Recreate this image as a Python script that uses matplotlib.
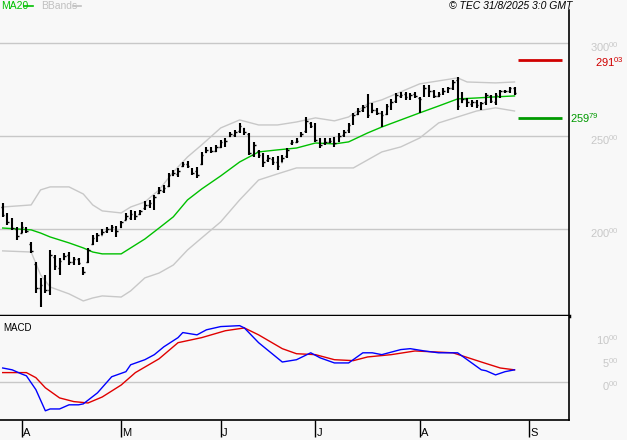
import numpy as np
import matplotlib
matplotlib.use('Agg')
import matplotlib.pyplot as plt
import matplotlib.transforms as mtransforms
from matplotlib.lines import Line2D

plt.rcParams['font.family'] = ['Liberation Sans', 'DejaVu Sans']
plt.rcParams['mathtext.fontset'] = 'custom'
plt.rcParams['mathtext.rm'] = 'Liberation Sans'
plt.rcParams['mathtext.it'] = 'Liberation Sans:italic'

# daily bars, late March .. 29 Aug 2025 (index = trading day)
highs = [214.0, 208.6, 205.9, 201.1, 203.8, 201.1, 193.0, 182.3, 173.7, 175.3,
         188.7, 186.0, 184.4, 187.1, 187.6, 185.0, 184.4, 179.6, 189.8, 196.8,
         197.8, 200.0, 201.1, 202.2, 201.6, 204.3, 208.6, 210.2, 209.7, 210.2,
         215.1, 215.6, 218.3, 222.6, 223.7, 230.1, 231.7, 232.8, 236.0, 236.6,
         232.8, 233.3, 241.4, 244.1, 244.1, 245.2, 247.8, 248.9, 252.2, 253.2,
         257.0, 254.3, 251.6, 246.8, 242.5, 240.9, 239.8, 238.7, 239.3, 239.8,
         243.5, 247.8, 248.9, 252.2, 260.2, 257.5, 257.0, 248.9, 248.9, 248.9,
         249.5, 251.6, 253.2, 257.0, 262.4, 265.1, 266.7, 272.6, 267.7, 265.1,
         263.4, 267.2, 269.9, 273.1, 273.7, 273.7, 273.1, 273.7, 271.0, 277.4,
         277.4, 274.7, 273.7, 275.8, 276.3, 280.1, 281.7, 273.7, 270.4, 269.4,
         269.4, 268.3, 273.1, 272.0, 273.1, 274.7, 274.7, 276.3, 276.3]
lows = [206.5, 202.2, 199.5, 194.1, 197.8, 197.8, 187.1, 165.6, 158.1, 165.6,
        164.5, 178.0, 175.3, 183.3, 180.6, 180.6, 180.6, 175.3, 181.7, 191.4,
        193.0, 196.8, 197.8, 198.4, 195.7, 200.5, 204.8, 204.8, 204.8, 207.5,
        210.2, 211.3, 210.2, 218.8, 219.4, 222.6, 228.5, 228.0, 233.3, 232.8,
        229.0, 227.4, 234.4, 240.9, 240.9, 241.4, 243.5, 244.1, 249.5, 249.5,
        251.6, 250.5, 239.8, 238.7, 238.2, 233.3, 236.0, 234.4, 231.7, 236.0,
        238.2, 245.2, 246.2, 249.5, 251.6, 254.3, 246.8, 243.5, 245.2, 246.2,
        244.1, 246.8, 249.5, 251.6, 255.9, 261.3, 262.9, 259.7, 262.4, 261.3,
        254.8, 261.3, 264.0, 267.7, 270.4, 269.4, 269.4, 270.4, 262.4, 271.0,
        271.0, 270.4, 271.0, 272.0, 273.1, 274.7, 264.0, 267.7, 265.6, 265.6,
        265.1, 264.0, 266.7, 267.7, 266.7, 270.4, 273.1, 273.1, 272.0]
opens = [212, 207, 204, 200, 198, 200, 192, 181, 168, 170,
         167, 185, 179, 184, 186, 182, 184, 179, 182, 192,
         195, 197, 199, 200, 201, 201, 205, 206, 208, 208,
         211, 213, 212, 219.5, 220.5, 223, 229, 229.5, 234, 235,
         232, 231, 235, 241.5, 243, 242, 244, 245, 250, 250.5,
         252.5, 254, 251, 240, 242, 239.5, 237, 237.5, 236, 236,
         239, 246, 247, 250, 252.5, 257, 256, 247.5, 246, 247,
         248.5, 247.5, 250.5, 253, 257, 262, 264, 266, 263, 264,
         262.5, 262, 265, 269, 271.5, 272.5, 270.5, 272.5, 270.5, 272,
         276.5, 274, 271.5, 273, 274, 276, 280, 268, 270, 267,
         268.5, 265.5, 268, 271.5, 268, 271.5, 274, 274, 275.5]
closes = [207.5, 204, 200.5, 196, 201, 199, 188, 168, 170, 167,
          186, 180, 183, 185.5, 182, 184, 181.5, 177, 188.5, 195,
          196.5, 198.5, 200, 201, 199, 203.5, 207, 208, 207, 209.5,
          213, 214, 217, 221, 222, 229, 230, 231, 235, 234,
          230, 229, 240, 242.5, 242, 244, 246.5, 247.5, 251, 252,
          255.5, 252, 241, 245, 240, 236, 238, 236, 234, 238,
          242.5, 246.5, 247.5, 251, 258, 255.5, 248, 245, 247, 247.5,
          246, 250, 252, 256, 261, 263.5, 265.5, 261, 264, 262.5,
          261.5, 266, 268, 272, 272, 271, 272, 271.5, 270, 276,
          274, 271.5, 272.5, 274, 275.5, 279, 266, 270, 268, 268,
          266.5, 267.5, 272, 269, 272, 274, 274, 275.5, 273]

# MA20 and Bollinger bands, read at selected bars
ma_idx = [0, 3, 6, 8, 10, 14, 17, 19, 21, 25, 27, 30, 33, 36, 39, 42, 46, 50, 54,
          58, 62, 66, 70, 73, 77, 80, 84, 88, 92, 96, 100, 104, 108]
ma20 = [200.5, 200.0, 199.5, 197.8, 195.7, 192.5, 189.8, 187.6, 186.6, 186.6,
        189.8, 194.6, 200.5, 206.5, 215.6, 221.5, 228.5, 236.0, 241.4, 242.5,
        243.5, 246.2, 245.7, 246.8, 251.6, 254.8, 258.6, 262.4, 266.1, 269.9,
        270.4, 271.0, 271.5]
up_idx = [0, 6, 8, 10, 14, 17, 19, 21, 25, 27, 30, 33, 36, 39, 42, 46, 50, 54,
          58, 62, 66, 70, 73, 77, 80, 84, 88, 92, 96, 98, 104, 108]
bb_upper = [211.8, 212.9, 221.0, 222.6, 222.6, 218.8, 212.9, 209.7, 208.6, 211.8,
            214.5, 221.0, 230.6, 238.7, 245.2, 254.3, 258.6, 255.9, 255.9, 257.5,
            259.7, 258.1, 260.2, 267.2, 269.4, 273.7, 278.0, 279.6, 281.2, 279.0,
            278.5, 279.0]
lo_idx = [0, 6, 8, 10, 14, 17, 19, 21, 25, 27, 30, 33, 36, 39, 42, 46, 50, 54,
          58, 62, 66, 70, 74, 77, 80, 84, 88, 92, 96, 100, 104, 108]
bb_lower = [188.2, 187.6, 175.3, 168.8, 165.1, 161.3, 162.9, 164.0, 163.4, 166.7,
            173.7, 176.3, 180.6, 188.7, 195.2, 203.8, 215.6, 226.3, 229.6, 232.8,
            232.8, 232.8, 232.8, 237.1, 241.4, 244.1, 248.9, 257.0, 260.2, 263.4,
            265.1, 263.4]

resistance = 291.03
support = 259.79

# MACD (blue) and signal (red)
macd_idx = [0, 2, 4, 5, 7, 9, 10, 12, 14, 16, 17, 20, 23, 26, 27, 30, 32, 34, 37,
            38, 41, 43, 46, 50, 51, 54, 59, 62, 65, 67, 70, 73, 76, 78, 80, 84, 86,
            89, 92, 96, 101, 102, 104, 106, 108]
macd = [3.0, 2.6, 1.7, 1.3, -1.7, -6.3, -5.9, -5.9, -5.0, -5.0, -4.8, -2.4, 1.1,
        2.2, 3.7, 4.8, 5.9, 7.6, 9.6, 10.7, 10.2, 11.3, 12.0, 12.2, 11.7, 8.5, 4.3,
        4.8, 6.3, 5.2, 4.1, 4.1, 6.3, 6.3, 5.9, 7.0, 7.2, 6.7, 6.3, 6.3, 2.6, 2.4,
        1.5, 2.2, 2.6]
sig_idx = [0, 2, 5, 7, 9, 12, 15, 18, 21, 25, 28, 33, 37, 42, 47, 51, 54, 59, 62,
           66, 70, 74, 77, 82, 87, 95, 101, 105, 108]
signal = [2.0, 2.0, 2.0, 0.9, -1.3, -3.5, -4.3, -4.6, -3.3, -0.7, 2.0, 5.0, 8.5,
          9.6, 11.1, 11.7, 10.2, 7.2, 6.1, 5.9, 4.8, 4.6, 5.4, 5.9, 6.7, 6.3, 4.3,
          3.0, 2.6]

month_pos = [4, 25, 46, 66, 88, 111]
month_labels = ['A', 'M', 'J', 'J', 'A', 'S']

BG = '#f8f8f8'
GRID = '#c8c8c8'

fig = plt.figure(figsize=(6.27, 4.40), dpi=100, facecolor=BG)
ax = fig.add_axes([0, 0.2818, 0.9075, 0.6955], facecolor=BG)
ax2 = fig.add_axes([0, 0.04545, 0.9075, 0.2364], facecolor=BG)

xmin, xmax = -0.57, 119.5
idx = np.arange(len(highs))

# ---- price panel
for lvl in [200, 250, 300]:
    ax.axhline(lvl, color=GRID, lw=1, zorder=1)
ax.plot(up_idx, bb_upper, color=GRID, lw=1, zorder=2)
ax.plot(lo_idx, bb_lower, color=GRID, lw=1, zorder=2)
ax.plot(ma_idx, ma20, color='#00c000', lw=1, zorder=3)
ax.vlines(idx, lows, highs, color='black', lw=1.5, zorder=4)
ax.hlines(opens, idx - 0.35, idx, color='black', lw=1, zorder=4)
ax.hlines(closes, idx, idx + 0.35, color='black', lw=1, zorder=4)

ax.hlines(resistance, 108.7, 118.0, color='#d00000', lw=2, zorder=4)
ax.hlines(support, 108.7, 118.0, color='#009a00', lw=2, zorder=4)

ax.set_xlim(xmin, xmax)
ax.set_ylim(153.2, 317.7)
ax.set_xticks([])
ax.set_yticks([])
for s in ['left', 'top']:
    ax.spines[s].set_visible(False)
ax.spines['right'].set_linewidth(1.2)
ax.spines['bottom'].set_linewidth(2.5)

tr = mtransforms.blended_transform_factory(ax.transAxes, ax.transData)
tr_lab = mtransforms.offset_copy(tr, fig=fig, x=0, y=-4, units='dots')
tr_res = mtransforms.offset_copy(tr, fig=fig, x=0, y=-2, units='dots')
for lvl in [300, 250, 200]:
    ax.text(1.088, lvl, r'%d$^{00}$' % lvl, color=GRID, fontsize=8,
            ha='right', va='center', transform=tr_lab, clip_on=False)
ax.text(1.096, resistance, r'291$^{03}$', color='#d00000', fontsize=8,
        ha='right', va='center', transform=tr_res, clip_on=False)
ax.text(1.002, support, r'259$^{79}$', color='#009a00', fontsize=8,
        ha='left', va='center', transform=tr, clip_on=False)

# ---- MACD panel
ax2.axhline(0, color=GRID, lw=1, zorder=1)
ax2.plot(sig_idx, signal, color='#e00000', lw=1, zorder=3)
ax2.plot(macd_idx, macd, color='#0000ff', lw=1, zorder=3)
ax2.set_xlim(xmin, xmax)
ax2.set_ylim(-8.3, 14.3)
ax2.set_yticks([])
for s in ['left', 'top']:
    ax2.spines[s].set_visible(False)
ax2.spines['right'].set_linewidth(1.2)
ax2.spines['bottom'].set_linewidth(1.2)
ax2.set_xticks(month_pos)
ax2.set_xticklabels([])
ax2.tick_params(axis='x', direction='out', length=12, width=1, color='black')

tr2 = mtransforms.blended_transform_factory(ax2.transAxes, ax2.transData)
tr2_lab = mtransforms.offset_copy(tr2, fig=fig, x=0, y=-4, units='dots')
for v, s in [(10, '10'), (5, '5'), (0, '0')]:
    ax2.text(1.088, v, s + r'$^{00}$', color=GRID, fontsize=8,
             ha='right', va='center', transform=tr2_lab, clip_on=False)

trx = mtransforms.blended_transform_factory(ax2.transData, ax2.transAxes)
for p, lab in zip(month_pos, month_labels):
    ax2.text(p + 0.3, -0.125, lab, fontsize=8, ha='left', va='center',
             transform=trx, clip_on=False)

ax2.text(3 / 571, 0.88, 'MACD', fontsize=7, ha='left', va='center',
         transform=ax2.transAxes)

# ---- header
fig.text(1 / 627, 1 - 6 / 440, 'MA20', color='#00c000', fontsize=7.5,
         ha='left', va='center')
fig.add_artist(Line2D([24 / 627, 33 / 627], [1 - 6 / 440] * 2, color='#00c000', lw=1.2))
fig.text(41 / 627, 1 - 6 / 440, 'BBands', color='#c0c0c0', fontsize=7.5,
         ha='left', va='center')
fig.add_artist(Line2D([73 / 627, 81 / 627], [1 - 6 / 440] * 2, color='#c0c0c0', lw=1.2))
fig.text(449 / 627, 1 - 6 / 440, '© TEC 31/8/2025 3:0 GMT', fontsize=7.5,
         style='italic', ha='left', va='center')

fig.savefig('out.png', dpi=100, facecolor=BG)
